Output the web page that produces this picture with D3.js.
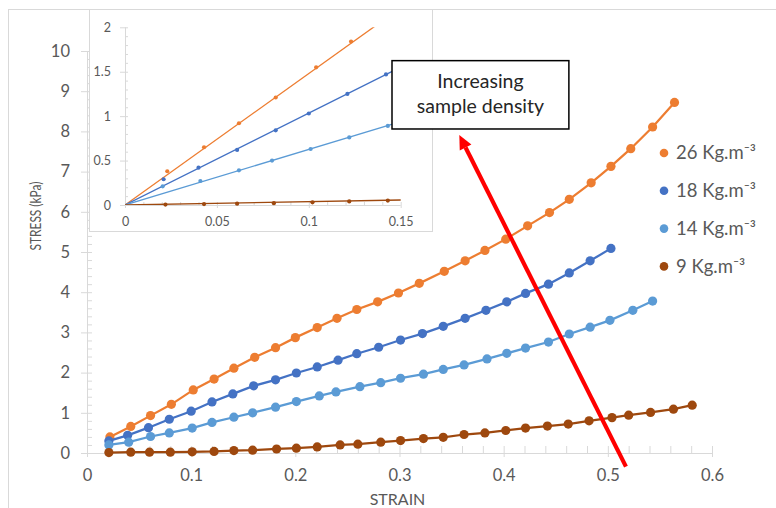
<!DOCTYPE html>
<html><head><meta charset="utf-8">
<script src="https://cdn.jsdelivr.net/npm/d3@7/dist/d3.min.js"></script>
<style>
body{margin:0;background:#fff}
svg{display:block}
text{font-family:Lato,"Open Sans","DejaVu Sans",sans-serif}
</style>
</head><body>
<svg id="c" width="776" height="508"></svg>
<script>
// ---------- data ----------
const seriesNames = ["26 Kg.m\u207B\u00B3", "18 Kg.m\u207B\u00B3", "14 Kg.m\u207B\u00B3", "9 Kg.m\u207B\u00B3"];
const seriesColors = ["#ED7D31", "#4472C4", "#5B9BD5", "#9E480E"];

const strain26 = [0.022,0.042,0.061,0.081,0.102,0.122,0.141,0.161,0.181,0.200,0.221,0.240,0.259,0.279,0.299,0.319,0.343,0.363,0.382,0.402,0.423,0.444,0.463,0.484,0.503,0.522,0.543,0.564];
const stress26 = [0.40,0.66,0.93,1.21,1.57,1.84,2.11,2.38,2.62,2.87,3.12,3.35,3.57,3.76,3.98,4.22,4.52,4.78,5.04,5.32,5.65,5.98,6.31,6.72,7.13,7.57,8.11,8.72];

const strain18 = [0.021,0.039,0.059,0.079,0.100,0.120,0.140,0.160,0.181,0.201,0.221,0.241,0.259,0.280,0.301,0.322,0.342,0.363,0.383,0.403,0.421,0.443,0.463,0.483,0.503];
const stress18 = [0.30,0.44,0.63,0.84,1.04,1.27,1.47,1.67,1.82,1.99,2.14,2.31,2.47,2.63,2.81,2.97,3.15,3.35,3.55,3.76,3.97,4.20,4.48,4.78,5.09];

const strain14 = [0.021,0.040,0.061,0.079,0.101,0.120,0.141,0.159,0.181,0.201,0.223,0.239,0.262,0.282,0.301,0.323,0.342,0.362,0.384,0.403,0.421,0.443,0.463,0.483,0.502,0.524,0.543];
const stress14 = [0.20,0.27,0.41,0.50,0.62,0.76,0.89,1.00,1.14,1.28,1.42,1.52,1.65,1.75,1.86,1.96,2.08,2.19,2.34,2.48,2.61,2.76,2.96,3.13,3.30,3.55,3.78];

const strain9 = [0.021,0.042,0.060,0.080,0.101,0.122,0.141,0.159,0.182,0.201,0.221,0.243,0.260,0.282,0.301,0.323,0.342,0.362,0.382,0.402,0.421,0.442,0.462,0.482,0.504,0.520,0.541,0.563,0.581];
const stress9 = [0.01,0.02,0.02,0.02,0.03,0.04,0.06,0.07,0.10,0.12,0.15,0.20,0.22,0.27,0.31,0.36,0.39,0.46,0.50,0.56,0.62,0.67,0.72,0.80,0.88,0.94,1.01,1.09,1.19];

// inset (zoom on small strains) with linear trend lines through origin
const insetStrain26 = [0.023,0.043,0.062,0.082,0.104,0.123];
const insetStress26 = [0.38,0.65,0.92,1.21,1.55,1.84];
const insetStrain18 = [0.021,0.040,0.061,0.082,0.100,0.121,0.142];
const insetStress18 = [0.29,0.42,0.62,0.84,1.03,1.25,1.47];
const insetStrain14 = [0.0205,0.041,0.062,0.080,0.101,0.122,0.143];
const insetStress14 = [0.21,0.27,0.39,0.50,0.63,0.76,0.89];
const insetStrain9 = [0.022,0.043,0.061,0.081,0.102,0.122,0.143];
const insetStress9 = [0.005,0.01,0.015,0.02,0.03,0.04,0.05];
const insetSlopes = [14.8, 10.35, 6.25, 0.375];

// ticks
const xTicks = [0,0.1,0.2,0.3,0.4,0.5,0.6];
const xTickLabels = ["0","0.1","0.2","0.3","0.4","0.5","0.6"];
const yTicks = [0,1,2,3,4,5,6,7,8,9,10];
const yTickLabels = ["0","1","2","3","4","5","6","7","8","9","10"];
const insetXTicks = [0,0.05,0.1,0.15];
const insetXTickLabels = ["0","0.05","0.1","0.15"];
const insetYTicks = [0,0.5,1,1.5,2];
const insetYTickLabels = ["0","0.5","1","1.5","2"];

const xTitle = "STRAIN";
const yTitle = "STRESS (kPa)";
const noteLines = ["Increasing", "sample density"];
// annotation in data units: arrow from (strain, stress) to tip; box corners
const arrowFrom = [0.5174, -0.34];
const arrowTo = [0.3574, 7.91];
const noteBox = [0.2928, 9.76, 0.4626, 8.06];

// ---------- drawing ----------
const svg = d3.select("#c");
const axisGrey = "#d9d9d9";
const textGrey = "#595959";

// outer chart frame
svg.append("rect").attr("x",8.5).attr("y",9.5).attr("width",900).attr("height",700)
  .attr("fill","none").attr("stroke",axisGrey);

const x = d3.scaleLinear().domain([0,0.6]).range([87,712]);
const y = d3.scaleLinear().domain([0,10]).range([453,51]);

// minor ticks (inside)
const gxMinor = svg.append("g").attr("transform",`translate(0,${y(0)})`)
  .call(d3.axisTop(x).tickValues(d3.range(0,0.6001,0.02)).tickSize(7).tickFormat(""));
const gyMinor = svg.append("g").attr("transform",`translate(${x(0)},0)`)
  .call(d3.axisRight(y).tickValues(d3.range(0,10.001,0.2)).tickSize(5).tickFormat(""));
// major
const gx = svg.append("g").attr("transform",`translate(0,${y(0)})`)
  .call(d3.axisBottom(x).tickValues(xTicks).tickSize(4).tickPadding(12)
    .tickFormat((d,i)=>xTickLabels[i]));
const gy = svg.append("g").attr("transform",`translate(${x(0)},0)`)
  .call(d3.axisLeft(y).tickValues(yTicks).tickSize(6).tickPadding(11)
    .tickFormat((d,i)=>yTickLabels[i]));
[gxMinor,gyMinor,gx,gy].forEach(g=>{
  g.selectAll("path,line").attr("stroke",axisGrey).attr("stroke-width",1);
  g.selectAll("text").attr("fill",textGrey).style("font-size","16.5px");
});
gxMinor.select(".domain").remove(); gyMinor.select(".domain").remove();
gx.select(".domain").attr("d",`M${x(0)},0.5H${x(0.6)}`);
gy.select(".domain").attr("d",`M0.5,${y(10)}V${y(0)}`);

svg.append("text").attr("x",(x(0)+x(0.6))/2 - 2).attr("y",y(0)+52)
  .attr("text-anchor","middle").attr("fill",textGrey).style("font-size","16px").text(xTitle);
svg.append("text").attr("transform",`translate(41,${216}) rotate(-90)`)
  .attr("text-anchor","middle").attr("fill",textGrey).style("font-size","15px")
  .attr("textLength",69).attr("lengthAdjust","spacingAndGlyphs").text(yTitle);

// series
const series = [
  {xs:strain26, ys:stress26},
  {xs:strain18, ys:stress18},
  {xs:strain14, ys:stress14},
  {xs:strain9, ys:stress9}
];
const line = d3.line().x(d=>x(d[0])).y(d=>y(d[1]));
series.forEach((s,i)=>{
  const pts = s.xs.map((v,j)=>[v,s.ys[j]]);
  const g = svg.append("g");
  g.append("path").attr("d",line(pts)).attr("fill","none")
    .attr("stroke",seriesColors[i]).attr("stroke-width",2.25);
  g.selectAll("circle").data(pts).join("circle")
    .attr("cx",d=>x(d[0])).attr("cy",d=>y(d[1])).attr("r",4.6)
    .attr("fill",seriesColors[i]);
});

// legend
const leg = svg.append("g");
seriesNames.forEach((n,i)=>{
  const cy = 153 + i*37.8;
  leg.append("circle").attr("cx",664).attr("cy",cy).attr("r",4.3).attr("fill",seriesColors[i]);
  leg.append("text").attr("x",676).attr("y",cy).attr("dy","0.35em")
    .attr("fill",textGrey).style("font-size","18.5px").text(n);
});

// ---------- inset ----------
const inset = svg.append("g");
inset.append("rect").attr("x",89.5).attr("y",9.5).attr("width",343).attr("height",222)
  .attr("fill","#fff").attr("stroke",axisGrey);
const ix = d3.scaleLinear().domain([0,0.15]).range([125,400.7]);
const iy = d3.scaleLinear().domain([0,2]).range([205,27.3]);

const ixMinor = inset.append("g").attr("transform",`translate(0,${iy(0)})`)
  .call(d3.axisTop(ix).tickValues(d3.range(0,0.15001,0.01)).tickSize(3).tickFormat(""));
const iyMinor = inset.append("g").attr("transform",`translate(${ix(0)},0)`)
  .call(d3.axisRight(iy).tickValues(d3.range(0,2.0001,0.1)).tickSize(3).tickFormat(""));
const ixg = inset.append("g").attr("transform",`translate(0,${iy(0)})`)
  .call(d3.axisBottom(ix).tickValues(insetXTicks).tickSize(3).tickPadding(9)
    .tickFormat((d,i)=>insetXTickLabels[i]));
const iyg = inset.append("g").attr("transform",`translate(${ix(0)},0)`)
  .call(d3.axisLeft(iy).tickValues(insetYTicks).tickSize(5).tickPadding(9)
    .tickFormat((d,i)=>insetYTickLabels[i]));
[ixMinor,iyMinor,ixg,iyg].forEach(g=>{
  g.selectAll("path,line").attr("stroke",axisGrey).attr("stroke-width",1);
  g.selectAll("text").attr("fill",textGrey).style("font-size","12.5px");
});
ixMinor.select(".domain").remove(); iyMinor.select(".domain").remove();
ixg.select(".domain").attr("d",`M${ix(0)},0.5H${ix(0.15)}`);
iyg.select(".domain").attr("d",`M0.5,${iy(2)}V${iy(0)}`);

svg.append("clipPath").attr("id","iclip").append("rect")
  .attr("x",ix(0)).attr("y",iy(2)).attr("width",ix(0.15)-ix(0)+2).attr("height",iy(0)-iy(2));
const insetSeries = [
  {xs:insetStrain26, ys:insetStress26},
  {xs:insetStrain18, ys:insetStress18},
  {xs:insetStrain14, ys:insetStress14},
  {xs:insetStrain9, ys:insetStress9}
];
const iline = d3.line().x(d=>ix(d[0])).y(d=>iy(d[1]));
insetSeries.forEach((s,i)=>{
  const g = inset.append("g");
  g.append("path").attr("clip-path","url(#iclip)")
    .attr("d",iline([[0,0],[0.15,0.15*insetSlopes[i]]]))
    .attr("fill","none").attr("stroke",seriesColors[i]).attr("stroke-width",1.3);
  g.selectAll("circle").data(s.xs.map((v,j)=>[v,s.ys[j]])).join("circle")
    .attr("cx",d=>ix(d[0])).attr("cy",d=>iy(d[1])).attr("r",2.1)
    .attr("fill",seriesColors[i]);
});

// ---------- annotation ----------
const bx0 = x(noteBox[0]), by0 = y(noteBox[1]), bx1 = x(noteBox[2]), by1 = y(noteBox[3]);
svg.append("rect").attr("x",bx0).attr("y",by0).attr("width",bx1-bx0).attr("height",by1-by0)
  .attr("fill","#fff").attr("stroke","#000").attr("stroke-width",1.5);
noteLines.forEach((t,i)=>{
  svg.append("text").attr("x",(bx0+bx1)/2).attr("y",by0+21+i*25).attr("dy","0.35em")
    .attr("text-anchor","middle").attr("fill","#262626").style("font-size","19.5px").text(t);
});

const ax0 = x(arrowFrom[0]), ay0 = y(arrowFrom[1]), ax1 = x(arrowTo[0]), ay1 = y(arrowTo[1]);
const dx = ax1-ax0, dy = ay1-ay0, L = Math.hypot(dx,dy), ux = dx/L, uy = dy/L;
const head = 14, hw = 6.5;
const bxh = ax1-ux*head, byh = ay1-uy*head;
svg.append("line").attr("x1",ax0).attr("y1",ay0).attr("x2",bxh).attr("y2",byh)
  .attr("stroke","#FF0000").attr("stroke-width",4.2);
svg.append("path").attr("d",`M${ax1},${ay1}L${bxh-uy*hw},${byh+ux*hw}L${bxh+uy*hw},${byh-ux*hw}Z`)
  .attr("fill","#FF0000");
</script>
</body></html>
